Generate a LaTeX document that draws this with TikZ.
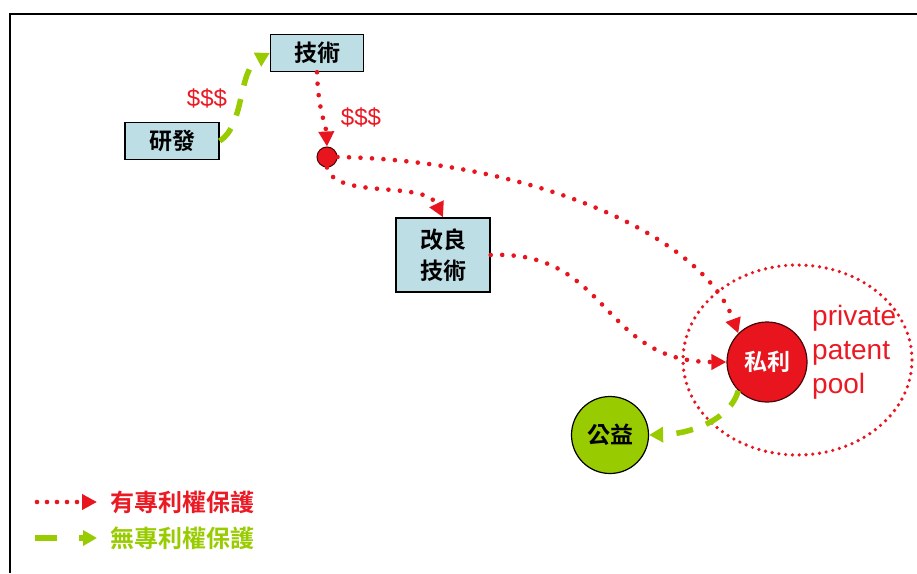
\documentclass[tikz,border=0pt]{standalone}
\usepackage{fontspec}
\setmainfont{Liberation Sans}
\newfontfamily\cjk{Noto Sans CJK TC}[BoldFont={* Bold}]
\usetikzlibrary{arrows.meta,shapes.geometric}
\definecolor{boxfill}{RGB}{190,222,230}
\definecolor{pred}{RGB}{232,20,30}
\definecolor{pgreen}{RGB}{153,204,0}
\definecolor{tred}{RGB}{235,25,35}
\tikzset{
  techbox/.style={draw=black, line width=1.4pt, fill=boxfill, font=\cjk\bfseries\fontsize{23}{26}\selectfont, inner sep=0pt, align=center},
  reddot/.style={draw=pred, line width=4.6pt, line cap=round, dash pattern=on 0pt off 11.5pt, -{Triangle[length=15pt,width=15pt,line cap=butt]}},
  greendash/.style={draw=pgreen, line width=5.5pt, dash pattern=on 17pt off 14pt, -{Triangle[length=14pt,width=15pt]}},
  moneylbl/.style={text=tred, font=\fontsize{24}{26}\selectfont, inner sep=0pt},
}
\begin{document}
\begin{tikzpicture}[x=1pt,y=-1pt]
\useasboundingbox (0,0) rectangle (917,573);
\fill[white] (0,0) rectangle (917,573);
% frame
\draw[line width=2.6pt] (10,573) -- (10,14) -- (917,14);

% boxes
\node[techbox, minimum width=93pt, minimum height=37pt] (jishu) at (317,53) {技術};
\node[techbox, minimum width=94pt, minimum height=37pt] (yanfa) at (172,141) {研發};
\node[techbox, minimum width=94pt, minimum height=74pt, font=\cjk\bfseries\fontsize{23}{31}\selectfont] (gailiang) at (443,255) {改良\\技術};

% circles
\node[circle, draw=black!70!pred, line width=1pt, fill=pred, minimum size=20pt, inner sep=0pt] (dot) at (327,157) {};
\node[circle, draw=black!70!pred, line width=1.2pt, fill=pred, minimum size=80pt, inner sep=0pt, text=white, font=\cjk\bfseries\fontsize{23}{26}\selectfont] (siri) at (767,362) {私利};
\node[circle, draw=black, line width=1.2pt, fill=pgreen, minimum size=77pt, inner sep=0pt, font=\cjk\bfseries\fontsize{23}{26}\selectfont] (gongyi) at (610,435) {公益};

% pool ellipse
\node[ellipse, draw=pred, line width=3.6pt, line cap=round, dash pattern=on 0pt off 6.8pt, minimum width=229pt, minimum height=190pt, inner sep=0pt] (pool) at (797.5,360) {};
\node[text=tred, font=\fontsize{28}{34}\selectfont, align=left, inner sep=0pt, anchor=north west] (pooltxt) at (812,305) {private\\patent\\pool};

% money labels
\node[moneylbl] (m1) at (207,98) {\$\$\$};
\node[moneylbl] (m2) at (361,117) {\$\$\$};

% connectors
\draw[greendash] (yanfa.east) .. controls (245,125) and (238,70) .. (jishu.west);
\draw[reddot] (jishu.south) .. controls (318,110) and (326,125) .. (dot.north);
\draw[reddot] (dot.east) .. controls (520,160) and (700,230) .. (siri.north west);
\draw[reddot] (dot.south) .. controls (335,200) and (425,180) .. (gailiang.north);
\draw[reddot] (gailiang.east) .. controls (610,250) and (600,362) .. (siri.west);
\draw[greendash] (siri.225) .. controls (730,420) and (690,434) .. (gongyi.east);

% legend
\coordinate (l1a) at (37,502);
\coordinate (l1b) at (97,502);
\coordinate (l2a) at (35,538);
\coordinate (l2b) at (97,538);
\draw[reddot, dash pattern=on 0pt off 10pt] (l1a) -- (l1b);
\draw[greendash, dash pattern=on 22pt off 22pt] (l2a) -- (l2b);
\node[anchor=west, text=tred, font=\cjk\bfseries\fontsize{24}{26}\selectfont, inner sep=0pt] (leg1) at (110,502) {有專利權保護};
\node[anchor=west, text=pgreen, font=\cjk\bfseries\fontsize{24}{26}\selectfont, inner sep=0pt] (leg2) at (110,538) {無專利權保護};
\end{tikzpicture}
\end{document}
